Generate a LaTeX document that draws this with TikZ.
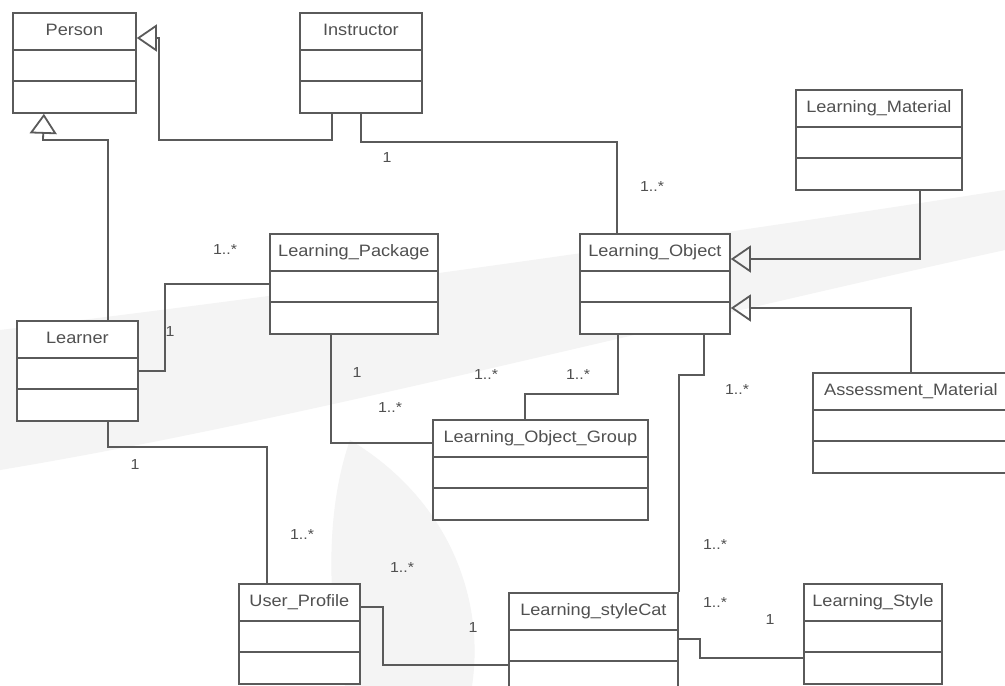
\documentclass[tikz,border=0pt]{standalone}
\usepackage{fontspec}
\setmainfont{Liberation Sans}[FakeStretch=1.1]
\usetikzlibrary{arrows.meta}
\definecolor{linecol}{HTML}{5A5A5A}
\definecolor{textcol}{HTML}{505050}
\definecolor{wmark}{HTML}{F4F4F4}
\tikzset{
  classbox/.style={rectangle, draw=linecol, line width=1.8pt, fill=white, inner sep=0pt, minimum height=100pt},
  divider/.style={draw=linecol, line width=1.8pt},
  classtitle/.style={text=textcol, font=\fontsize{16.5}{18}\selectfont, inner sep=0pt, text height=12pt, text depth=3.5pt},
  mult/.style={text=textcol, font=\fontsize{14.5}{16}\selectfont, inner sep=0pt},
  conn/.style={draw=linecol, line width=1.8pt},
  gen/.style={conn, line join=miter, -{Triangle[open, length=20pt, width=27pt]}},
  wm/.style={fill=wmark, draw=none},
}
\newcommand\umlclass[5]{%
  \node[classbox, minimum width=#4pt, anchor=north west] (#1) at (#2,#3) {};
  \draw[divider] ([yshift=-38pt]#1.north west) -- ([yshift=-38pt]#1.north east);
  \draw[divider] ([yshift=-69pt]#1.north west) -- ([yshift=-69pt]#1.north east);
  \node[classtitle] (#1-t) at ([yshift=-19pt]#1.north) {#5};
}
\begin{document}
\begin{tikzpicture}[x=1pt, y=-1pt]
\useasboundingbox (0,0) rectangle (1005,686);
\fill[white] (0,0) rectangle (1005,686);
\clip (0,0) rectangle (1005,686);

% faint watermark in the background
\path[wm] (0,330) .. controls (250,300) and (620,250) .. (1005,190)
  -- (1005,250) .. controls (640,330) and (300,420) .. (0,470) -- cycle;
\path[wm] (350,440) .. controls (322,520) and (330,620) .. (345,686)
  -- (472,686) .. controls (485,600) and (450,500) .. (350,440) -- cycle;

% classes
\umlclass{person}{12}{12}{123}{Person}
\umlclass{instructor}{299}{12}{122}{Instructor}
\umlclass{lmat}{795}{89}{166}{Learning\_Material}
\umlclass{lobj}{579}{233}{150}{Learning\_Object}
\umlclass{lpkg}{269}{233}{168}{Learning\_Package}
\umlclass{learner}{16}{320}{121}{Learner}
\umlclass{amat}{812}{372}{196}{Assessment\_Material}
\umlclass{log}{432}{419}{215}{Learning\_Object\_Group}
\umlclass{uprof}{238}{583}{121}{User\_Profile}
\umlclass{lscat}{508}{592}{169}{Learning\_styleCat}
\umlclass{lstyle}{803}{583}{138}{Learning\_Style}

% generalizations
\draw[gen] ([xshift=-29pt]instructor.south) |- (159,140) |- ([yshift=-26pt]person.north east);
\draw[gen] ([xshift=30.5pt]learner.north) |- (43,140) -- ([xshift=-30.5pt]person.south);
\draw[gen] ([xshift=41pt]lmat.south) |- ([yshift=-26pt]lobj.north east);
\draw[gen] (amat.north) |- ([yshift=-75pt]lobj.north east);

% associations
\draw[conn] (instructor.south) -- ++(0,28) -| ([xshift=-38pt]lobj.north);
\draw[conn] (learner.east) -- ++(26,0) |- (lpkg.west);
\draw[conn] ([xshift=-23pt]lpkg.south) |- ([yshift=-24pt]log.north west);
\draw[conn] ([xshift=-37pt]lobj.south) -- ++(0,59) -| ([xshift=-15.5pt]log.north);
\draw[conn] ([xshift=49pt]lobj.south) -- ++(0,40) -| (lscat.north east);
\draw[conn] ([xshift=30.5pt]learner.south) -- ++(0,25) -| ([xshift=-32.5pt]uprof.north);
\draw[conn] ([yshift=-24pt]uprof.north east) -- ++(22,0) |- ([yshift=-73pt]lscat.north west);
\draw[conn] ([yshift=-47pt]lscat.north east) -- ++(21,0) |- ([yshift=-75pt]lstyle.north west);

% multiplicities
\node[mult] (m1) at (387,158) {1};
\node[mult] (m2) at (652,187) {1..*};
\node[mult] (m3) at (225,250) {1..*};
\node[mult] (m4) at (170,332) {1};
\node[mult] (m5) at (357,373) {1};
\node[mult] (m6) at (390,408) {1..*};
\node[mult] (m7) at (486,375) {1..*};
\node[mult] (m8) at (578,375) {1..*};
\node[mult] (m9) at (737,390) {1..*};
\node[mult] (m10) at (135,465) {1};
\node[mult] (m11) at (302,535) {1..*};
\node[mult] (m12) at (402,568) {1..*};
\node[mult] (m13) at (473,628) {1};
\node[mult] (m14) at (715,545) {1..*};
\node[mult] (m15) at (715,603) {1..*};
\node[mult] (m16) at (770,620) {1};
\end{tikzpicture}
\end{document}
